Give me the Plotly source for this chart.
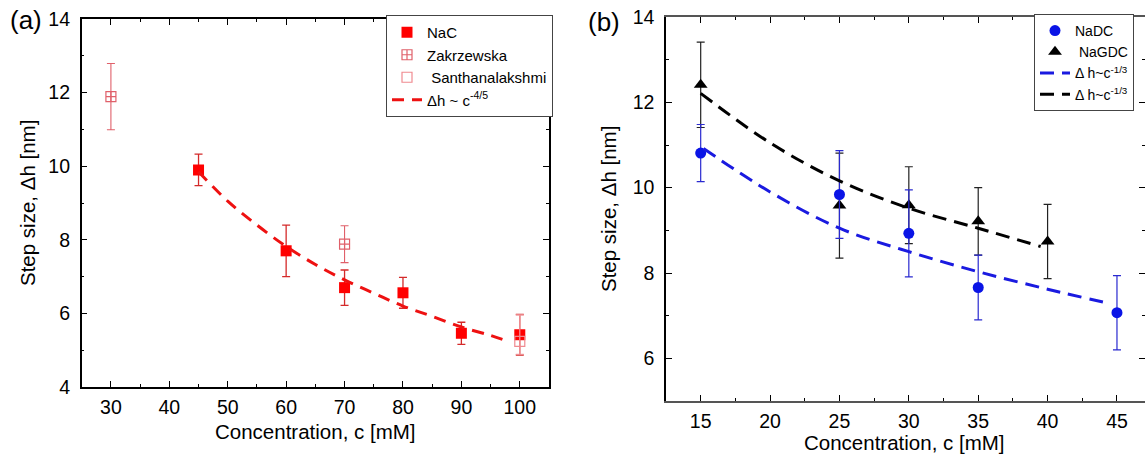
import plotly.graph_objects as go

# ---------------- data: panel (a) ----------------
nac_c = [45, 60, 70, 80, 90, 100]
nac_h = [9.90, 7.70, 6.70, 6.56, 5.46, 5.42]
nac_err = [0.43, 0.70, 0.48, 0.42, 0.30, 0.55]

zak_c = [30, 70]
zak_h = [11.89, 7.88]
zak_err = [0.90, 0.50]

san_c = [100]
san_h = [5.24]
san_err_plus = [0.72]
san_err_minus = [0.35]

fitA_c = [45, 50, 55, 60, 65, 70, 75, 80, 85, 90, 95, 98]
fitA_h = [9.85, 9.05, 8.40, 7.82, 7.33, 6.91, 6.55, 6.20, 5.92, 5.63, 5.40, 5.24]

# ---------------- data: panel (b) ----------------
nadc_c = [15, 25, 30, 35, 45]
nadc_h = [10.81, 9.84, 8.93, 7.66, 7.07]
nadc_err = [0.67, 1.03, 1.02, 0.76, 0.87]

nagdc_c = [15, 25, 30, 35, 40]
nagdc_h = [12.41, 9.58, 9.59, 9.21, 8.74]
nagdc_err = [1.00, 1.23, 0.90, 0.79, 0.87]

fitB_blue_c = [15.2, 20, 25, 30, 35, 40, 44.4]
fitB_blue_h = [10.92, 9.90, 9.05, 8.50, 8.03, 7.62, 7.29]
fitB_black_c = [15, 20, 25, 30, 35, 39.5]
fitB_black_h = [12.21, 11.05, 10.16, 9.52, 9.05, 8.62]

xticksA = [30, 40, 50, 60, 70, 80, 90, 100]
yticksA = [4, 6, 8, 10, 12, 14]
xticksB = [15, 20, 25, 30, 35, 40, 45]
yticksB = [6, 8, 10, 12, 14]

FONT = "Liberation Sans, Arial, sans-serif"
W, H = 1145, 454

fig = go.Figure()

# panel (a)
fig.add_trace(go.Scatter(
    x=nac_c, y=nac_h, mode="markers", name="NaC",
    marker=dict(symbol="square", size=11, color="#ff0000"),
    error_y=dict(type="data", array=nac_err, color="#d42a2a", thickness=1.3, width=4),
    xaxis="x", yaxis="y", legend="legend"))
fig.add_trace(go.Scatter(
    x=zak_c, y=zak_h, mode="markers", name="Zakrzewska",
    marker=dict(symbol="square-cross-open", size=10, color="#e0606a", line=dict(width=1.2)),
    error_y=dict(type="data", array=zak_err, color="#e0606a", thickness=1.1, width=4),
    xaxis="x", yaxis="y", legend="legend"))
fig.add_trace(go.Scatter(
    x=san_c, y=san_h, mode="markers", name=" Santhanalakshmi",
    marker=dict(symbol="square-open", size=10, color="#f08a90", line=dict(width=1.2)),
    error_y=dict(type="data", array=san_err_plus, arrayminus=san_err_minus,
                 color="#f3a0a5", thickness=1.1, width=4),
    xaxis="x", yaxis="y", legend="legend"))
fig.add_trace(go.Scatter(
    x=fitA_c, y=fitA_h, mode="lines", name="Δh ~ c<sup>-4/5</sup>",
    line=dict(color="#ee1111", width=3, dash="12px,8px", shape="spline"),
    xaxis="x", yaxis="y", legend="legend"))

# panel (b)
fig.add_trace(go.Scatter(
    x=nagdc_c, y=nagdc_h, mode="markers", name=" NaGDC", showlegend=False,
    marker=dict(symbol="triangle-up", size=12, color="#000000"),
    error_y=dict(type="data", array=nagdc_err, color="#222222", thickness=1.2, width=4),
    xaxis="x2", yaxis="y2", legend="legend2"))
fig.add_trace(go.Scatter(
    x=nadc_c, y=nadc_h, mode="markers", name="NaDC",
    marker=dict(symbol="circle", size=11, color="#0a14e6"),
    error_y=dict(type="data", array=nadc_err, color="#2a2ad0", thickness=1.2, width=4),
    xaxis="x2", yaxis="y2", legend="legend2"))
fig.add_trace(go.Scatter(
    x=[None], y=[None], mode="markers", name=" NaGDC",
    marker=dict(symbol="triangle-up", size=12, color="#000000"),
    xaxis="x2", yaxis="y2", legend="legend2"))
fig.add_trace(go.Scatter(
    x=fitB_blue_c, y=fitB_blue_h, mode="lines", name="Δ h~c<sup>-1/3</sup>",
    line=dict(color="#1a1ae0", width=3, dash="14px,8px", shape="spline"),
    xaxis="x2", yaxis="y2", legend="legend2"))
fig.add_trace(go.Scatter(
    x=fitB_black_c, y=fitB_black_h, mode="lines", name="Δ h~c<sup>-1/3</sup>",
    line=dict(color="#000000", width=3, dash="14px,8px", shape="spline"),
    xaxis="x2", yaxis="y2", legend="legend2"))

def px_x(p):
    return p / W

def px_y(p):
    return 1 - p / H

axis_common = dict(
    showgrid=False, zeroline=False, showline=True, linecolor="#000000", linewidth=1.5,
    mirror="ticks", ticks="inside", ticklen=6, tickwidth=1.3, tickcolor="#000000",
    automargin=False,
    tickfont=dict(family=FONT, size=19.5, color="#000000"),
)

fig.update_layout(
    width=W, height=H,
    margin=dict(l=0, r=0, t=0, b=0, autoexpand=False),
    paper_bgcolor="white", plot_bgcolor="white",
    font=dict(family=FONT, color="#000000"),
    xaxis=dict(axis_common, domain=[px_x(81.7), px_x(549)], range=[25, 105],
               tickvals=xticksA, ticklabelstandoff=2,
               minor=dict(tickvals=[35, 45, 55, 65, 75, 85, 95], ticks="inside", ticklen=3, tickcolor="#000")),
    yaxis=dict(axis_common, domain=[px_y(387), px_y(19)], range=[4, 14],
               tickvals=yticksA, ticklabelstandoff=6,
               minor=dict(tickvals=[5, 7, 9, 11, 13], ticks="inside", ticklen=3, tickcolor="#000")),
    xaxis2=dict(axis_common, domain=[px_x(666), 1.0], range=[12.5, 47.02], anchor="y2",
                tickvals=xticksB, ticklabelstandoff=2, linecolor="#555555",
                minor=dict(tickvals=[17.5, 22.5, 27.5, 32.5, 37.5, 42.5], ticks="inside", ticklen=3, tickcolor="#000")),
    yaxis2=dict(axis_common, domain=[px_y(401), px_y(17)], range=[5, 14], anchor="x2",
                tickvals=yticksB, ticklabelstandoff=6,
                minor=dict(tickvals=[7, 9, 11, 13], ticks="inside", ticklen=3, tickcolor="#000")),
    legend=dict(x=px_x(553), xanchor="right", y=px_y(15), yanchor="top",
                bgcolor="white", bordercolor="#444", borderwidth=1,
                font=dict(family=FONT, size=15, color="#000"), tracegroupgap=0,
                itemwidth=30),
    legend2=dict(x=px_x(1034), xanchor="left", y=px_y(14), yanchor="top",
                 bgcolor="white", bordercolor="#444", borderwidth=1,
                 font=dict(family=FONT, size=14, color="#000"), tracegroupgap=0,
                 itemwidth=30),
    showlegend=True,
)

annos = [
    dict(text="(a)", x=px_x(26), y=px_y(20), font=dict(size=26)),
    dict(text="(b)", x=px_x(604), y=px_y(22), font=dict(size=26)),
    dict(text="Concentration, c [mM]", x=px_x(315.5), y=px_y(431), font=dict(size=20.5)),
    dict(text="Concentration, c [mM]", x=px_x(904.5), y=px_y(442), font=dict(size=20.5)),
    dict(text="Step size, Δh [nm]", x=px_x(27), y=px_y(203), textangle=-90, font=dict(size=20.5)),
    dict(text="Step size, Δh [nm]", x=px_x(608), y=px_y(209), textangle=-90, font=dict(size=20.5)),
]
for a in annos:
    a.update(xref="paper", yref="paper", showarrow=False, xanchor="center", yanchor="middle")
    a["font"] = dict(family=FONT, color="#000000", size=a["font"]["size"])
    fig.add_annotation(**a)

fig.write_html("out.html", config={"displayModeBar": False},
               post_script="document.body.style.margin='0';")
